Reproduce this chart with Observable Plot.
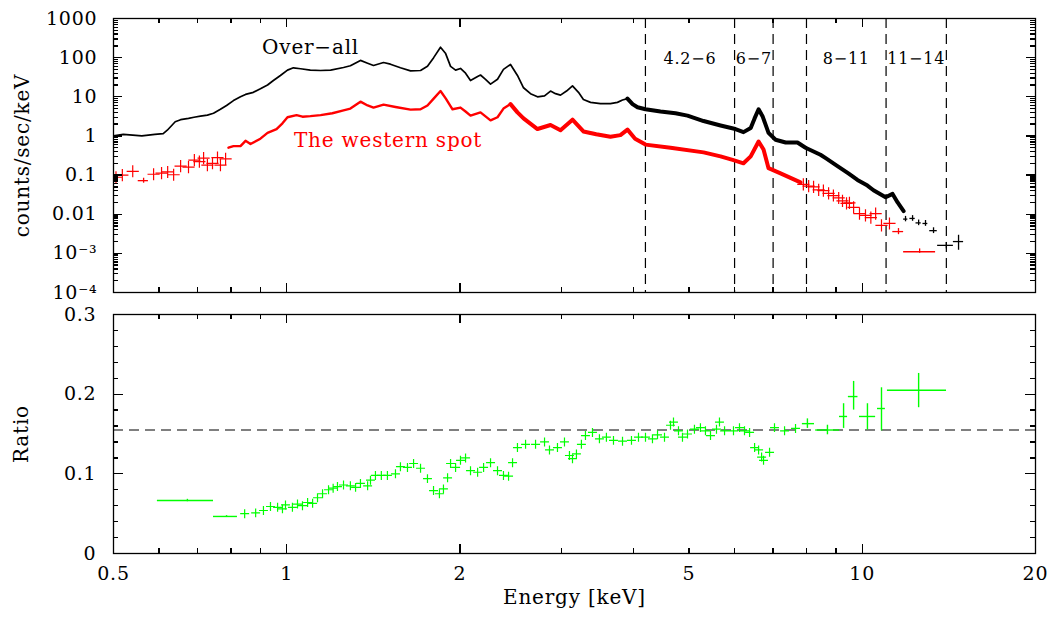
<!DOCTYPE html>
<html><head><meta charset="utf-8">
<script src="https://cdn.jsdelivr.net/npm/d3@7"></script>
<script src="https://cdn.jsdelivr.net/npm/@observablehq/plot@0.6"></script>
<style>
html,body{margin:0;padding:0;background:#fff;}
#chart svg{display:block;}
#chart svg text{letter-spacing:0.8px;}
</style></head><body><div id="chart"></div>
<script>
// ---------- Over-all spectrum (black), dense part ----------
const overallE = [0.50,0.52,0.54,0.56,0.59,0.61,0.62,0.64,0.654,0.675,0.69,0.708,0.728,0.746,0.767,0.786,0.808,0.831,0.848,0.875,0.90,0.926,0.948,0.975,1.003,1.027,1.057,1.099,1.145,1.192,1.255,1.29,1.343,1.382,1.415,1.473,1.514,1.576,1.641,1.708,1.756,1.80,1.85,1.887,1.926,1.965,2.004,2.045,2.086,2.146,2.171,2.215,2.26,2.324,2.38,2.448,2.517,2.579,2.652,2.727,2.805,2.873,2.931,2.99,3.063,3.137,3.213,3.277,3.372,3.508,3.651,3.755,3.832,3.909,3.989,4.069,4.201,4.461,4.737,4.97,5.30,5.672,6.02,6.218,6.40,6.50,6.605,6.71,6.873,7.07,7.36,7.717,7.97,8.46,8.64,9.057,9.46,9.81,10.21,10.46,10.98,11.29,11.52,11.80];
const overallV = [1.0,1.1,1.05,1.0,1.1,1.15,1.4,2.3,2.6,2.8,3.0,3.2,3.4,3.8,4.8,6.0,8.0,10,11.5,13,16,20,26,35,48,55,52,48,47,48,56,62,85,72,63,75,68,55,46,47,60,100,185,130,60,48,53,40,26,33,36,28,21,28,50,67,35,17,12,10,10.5,14,12,11,14,19,13,8.5,7.2,6.7,6.7,7.2,8.3,9,6.5,5.4,4.8,4.2,3.8,3.3,2.4,1.85,1.5,1.25,1.6,2.8,4.8,3.2,1.2,0.8,0.68,0.68,0.5,0.33,0.27,0.17,0.11,0.075,0.054,0.041,0.027,0.033,0.02,0.012];
// Over-all, binned high-energy points
const overallBinE  = [11.89,12.23,12.53,12.88,13.30,14.0,14.70];
const overallBinLo = [11.8,12.1,12.4,12.75,13.1,13.52,14.40];
const overallBinHi = [12.0,12.36,12.66,13.0,13.5,14.40,15.0];
const overallBinV  = [0.0075,0.0078,0.006,0.0058,0.0038,0.0016,0.002];
const overallBinVLo = [0.0064,0.0066,0.0051,0.0049,0.0032,0.0013,0.0012];
const overallBinVHi = [0.0088,0.0092,0.0071,0.0069,0.0045,0.0019,0.0029];

// ---------- The western spot (red), dense part ----------
const westE = [0.792,0.808,0.831,0.848,0.865,0.90,0.926,0.96,0.983,1.003,1.04,1.065,1.099,1.145,1.20,1.255,1.29,1.343,1.382,1.415,1.473,1.545,1.641,1.708,1.756,1.80,1.85,1.89,1.941,2.004,2.045,2.086,2.171,2.26,2.324,2.38,2.448,2.517,2.579,2.727,2.873,2.99,3.137,3.277,3.45,3.651,3.80,3.909,4.03,4.201,4.643,5.30,5.672,5.974,6.218,6.40,6.605,6.737,6.873,7.211,7.505,7.81];
const westV = [0.5,0.55,0.55,0.75,0.62,0.85,1.2,1.5,2.1,3.0,3.4,3.1,3.2,3.4,3.8,4.5,5,7.5,6,5.3,6.3,5.5,4.7,4.8,6,9,14,9,4.8,5.3,4.2,3.3,4,2.5,3,5,6.5,4,2.8,1.5,1.9,1.4,2.6,1.3,1.1,0.95,1.05,1.45,0.85,0.6,0.5,0.38,0.3,0.24,0.2,0.3,0.72,0.45,0.15,0.11,0.085,0.065];
// western spot, narrow binned points
const westPtE = [0.505,0.518,0.540,0.587,0.606,0.621,0.636,0.654,0.675,0.691,0.705,0.717,0.728,0.743,0.758,0.767,0.783,7.90,8.07,8.23,8.40,8.56,8.74,8.91,9.10,9.24,9.39,9.50,9.66,9.89,10.13,10.35,10.55,10.80,11.15];
const westPtV = [0.088,0.1,0.125,0.105,0.112,0.12,0.102,0.17,0.16,0.24,0.22,0.27,0.18,0.2,0.28,0.18,0.26,0.058,0.052,0.05,0.042,0.04,0.034,0.03,0.026,0.022,0.019,0.0195,0.015,0.0104,0.0093,0.0082,0.0104,0.0052,0.0058];
// western spot, wide bins
const westBinE  = [0.564,11.56,12.58];
const westBinLo = [0.552,11.3,11.8];
const westBinHi = [0.575,11.8,13.41];
const westBinV  = [0.072,0.0036,0.0011];
const westBinVLo = [0.062,0.003,0.001];
const westBinVHi = [0.083,0.0043,0.0013];

// ---------- Ratio (green) ----------
const ratioE = [0.845,0.883,0.911,0.937,0.964,0.983,0.995,1.023,1.044,1.065,1.087,1.109,1.131,1.154,1.182,1.204,1.225,1.255,1.29,1.317,1.343,1.382,1.398,1.426,1.46,1.496,1.545,1.576,1.621,1.661,1.708,1.756,1.799,1.842,1.872,1.903,1.926,1.965,2.004,2.045,2.086,2.146,2.198,2.26,2.324,2.38,2.429,2.468,2.517,2.60,2.706,2.805,2.861,2.954,3.038,3.099,3.137,3.187,3.251,3.304,3.398,3.494,3.593,3.696,3.832,3.972,4.085,4.201,4.32,4.408,4.533,4.643,4.699,4.794,4.871,4.97,5.11,5.234,5.34,5.449,5.581,5.648,5.764,5.974,6.119,6.243,6.371,6.50,6.605,6.685,6.737,6.901,7.039,7.328,7.657];
const ratioV = [0.05,0.051,0.054,0.059,0.058,0.056,0.061,0.058,0.062,0.06,0.064,0.063,0.07,0.075,0.08,0.082,0.084,0.086,0.085,0.083,0.088,0.085,0.092,0.098,0.098,0.098,0.1,0.109,0.108,0.113,0.107,0.094,0.079,0.075,0.081,0.095,0.113,0.108,0.117,0.12,0.104,0.102,0.108,0.114,0.104,0.098,0.097,0.114,0.133,0.137,0.137,0.14,0.13,0.133,0.14,0.123,0.119,0.125,0.137,0.148,0.152,0.144,0.146,0.142,0.141,0.142,0.146,0.146,0.144,0.149,0.146,0.161,0.165,0.154,0.146,0.15,0.156,0.158,0.154,0.148,0.156,0.165,0.154,0.154,0.158,0.154,0.152,0.133,0.13,0.121,0.117,0.127,0.158,0.154,0.157];
const ratioBinE  = [0.672,0.786,8.03,8.70,9.28,9.66,10.21,10.80,12.53];
const ratioBinLo = [0.596,0.746,7.87,8.30,9.13,9.46,9.89,10.63,11.06];
const ratioBinHi = [0.746,0.821,8.26,9.13,9.43,9.83,10.55,10.97,14.01];
const ratioBinV  = [0.0665,0.0465,0.163,0.155,0.172,0.197,0.172,0.182,0.205];
const ratioBinVLo = [0.065,0.0455,0.157,0.149,0.157,0.18,0.155,0.154,0.183];
const ratioBinVHi = [0.068,0.0475,0.169,0.161,0.188,0.216,0.188,0.208,0.226];
const ratioRef = 0.155;

// ---------- Energy bands ----------
const bandEdges = [4.2, 6, 7, 8, 11, 14];
const bandLo = [4.2, 6, 8, 11];
const bandHi = [6, 7, 11, 14];
const bandLabels = ["4.2−6", "6−7", "8−11", "11−14"];
const bandLabelY = 95;

// ---------- Series labels ----------
const seriesNames = ["Over−all", "The western spot"];
const seriesColors = ["#000000", "#ff0000"];
const seriesLabelE = [1.10, 1.50];
const seriesLabelV = [181, 0.76];

// ---------- Ticks ----------
const xTickValues = [0.5, 1, 2, 5, 10, 20];
const xTickLabels = ["0.5", "1", "2", "5", "10", "20"];
const xMajorTicks = [1, 2, 10];
const xMinorTicks = [0.6, 0.7, 0.8, 0.9, 3, 4, 5, 6, 7, 8, 9];
const yTopTickValues = [1e-4, 1e-3, 0.01, 0.1, 1, 10, 100, 1000];
const yTopTickLabels = ["10⁻⁴", "10⁻³", "0.01", "0.1", "1", "10", "100", "1000"];
const yBotTickValues = [0, 0.1, 0.2, 0.3];
const yBotTickLabels = ["0", "0.1", "0.2", "0.3"];
const yBotMinor = [0.02,0.04,0.06,0.08,0.12,0.14,0.16,0.18,0.22,0.24,0.26,0.28];

// ---------- build tables ----------
const zip = (E, V) => E.map((e, i) => ({e, v: V[i]}));
const bins = (E, Lo, Hi, V, VLo, VHi) => E.map((e, i) => ({e, lo: Lo[i], hi: Hi[i], v: V[i], vlo: VLo[i], vhi: VHi[i]}));
const overall = zip(overallE, overallV);
const overallBins = bins(overallBinE, overallBinLo, overallBinHi, overallBinV, overallBinVLo, overallBinVHi);
const west = zip(westE, westV);
const westPts = zip(westPtE, westPtV);
const westBins = bins(westBinE, westBinLo, westBinHi, westBinV, westBinVLo, westBinVHi);
const ratio = zip(ratioE, ratioV);
const ratioBins = bins(ratioBinE, ratioBinLo, ratioBinHi, ratioBinV, ratioBinVLo, ratioBinVHi);
const bands = bandLabels.map((label, i) => ({label, lo: bandLo[i], hi: bandHi[i]}));
const seriesLabels = seriesNames.map((name, i) => ({name, color: seriesColors[i], e: seriesLabelE[i], v: seriesLabelV[i]}));
const yTopMinor = yTopTickValues.slice(0, -1).flatMap(d => [2,3,4,5,6,7,8,9].map(k => d * k));

const FONT = "DejaVu Serif";
const RED = "#ff0000", GREEN = "#00ff00", BLACK = "#000000";
const W = 1054, ML = 113, MR = 19;
const FW = W - ML - MR;                  // frame width
const TK = {stroke: BLACK, strokeWidth: 1.3, shapeRendering: "crispEdges"};

// inward tick marks along the frame edges (rules shortened by insets)
function xTicks(frameH) {
  return [
    Plot.ruleX(xMajorTicks, {...TK, insetTop: frameH - 9}),
    Plot.ruleX(xMajorTicks, {...TK, insetBottom: frameH - 9}),
    Plot.ruleX(xMinorTicks, {...TK, insetTop: frameH - 5}),
    Plot.ruleX(xMinorTicks, {...TK, insetBottom: frameH - 5})
  ];
}
function yTicks(major, minor, majLen, minLen) {
  return [
    Plot.ruleY(major, {...TK, insetRight: FW - majLen}),
    Plot.ruleY(major, {...TK, insetLeft: FW - majLen}),
    Plot.ruleY(minor, {...TK, insetRight: FW - minLen}),
    Plot.ruleY(minor, {...TK, insetLeft: FW - minLen})
  ];
}

const topH = 300, topMT = 18, topMB = 8, topFH = topH - topMT - topMB;
const topPlot = Plot.plot({
  width: W, height: topH,
  marginLeft: ML, marginRight: MR, marginTop: topMT, marginBottom: topMB,
  style: {fontFamily: FONT, fontSize: "19px", background: "#fff", color: "#000", overflow: "visible"},
  x: {type: "log", domain: [0.5, 20], label: null, axis: null},
  y: {type: "log", domain: [1e-4, 1000], label: null, axis: null},
  marks: [
    Plot.ruleX(bandEdges, {stroke: BLACK, strokeWidth: 1.2, strokeDasharray: "10,6"}),
    Plot.line(overall, {x: "e", y: "v", stroke: BLACK, strokeWidth: 1.7, clip: true}),
    Plot.line(overall.filter(d => d.e >= 3.9), {x: "e", y: "v", stroke: BLACK, strokeWidth: 4, clip: true}),
    Plot.line(west, {x: "e", y: "v", stroke: RED, strokeWidth: 2.4, clip: true}),
    Plot.line(west.filter(d => d.e >= 2.4), {x: "e", y: "v", stroke: RED, strokeWidth: 4, clip: true}),
    Plot.dot(westPts, {x: "e", y: "v", symbol: "plus", r: 4, stroke: RED, strokeWidth: 1.2, clip: true}),
    Plot.ruleY(westBins, {x1: "lo", x2: "hi", y: "v", stroke: RED, strokeWidth: 1.3, clip: true}),
    Plot.ruleX(westBins, {x: "e", y1: "vlo", y2: "vhi", stroke: RED, strokeWidth: 1.3, clip: true}),
    Plot.ruleY(overallBins, {x1: "lo", x2: "hi", y: "v", stroke: BLACK, strokeWidth: 1.3, clip: true}),
    Plot.ruleX(overallBins, {x: "e", y1: "vlo", y2: "vhi", stroke: BLACK, strokeWidth: 1.3, clip: true}),
    Plot.text(bands, {x: d => Math.sqrt(d.lo * d.hi), y: () => bandLabelY, text: "label", fontSize: 16, fill: BLACK}),
    Plot.text(seriesLabels, {x: "e", y: "v", text: "name", fill: "color", fontSize: 20}),
    Plot.frame({stroke: BLACK, strokeWidth: 1.3}),
    ...xTicks(topFH),
    ...yTicks(yTopTickValues, yTopMinor, 9, 5),
    Plot.axisY(yTopTickValues, {anchor: "left", tickSize: 0, tickPadding: 16, fontSize: 19, label: null,
      tickFormat: d => yTopTickLabels[yTopTickValues.indexOf(d)]}),
    Plot.text(["counts/sec/keV"], {frameAnchor: "left", dx: -91, rotate: -90, textAnchor: "middle", fontSize: 20, fill: BLACK})
  ]
});

const botH = 321, botMT = 14, botMB = 68, botFH = botH - botMT - botMB;
const bottomPlot = Plot.plot({
  width: W, height: botH,
  marginLeft: ML, marginRight: MR, marginTop: botMT, marginBottom: botMB,
  style: {fontFamily: FONT, fontSize: "19px", background: "#fff", color: "#000", overflow: "visible"},
  x: {type: "log", domain: [0.5, 20], label: null, axis: null},
  y: {domain: [0, 0.3], label: null, axis: null},
  marks: [
    Plot.ruleY([ratioRef], {stroke: BLACK, strokeWidth: 1.2, strokeDasharray: "10,6"}),
    Plot.dot(ratio, {x: "e", y: "v", symbol: "plus", r: 3, stroke: GREEN, strokeWidth: 1.2, clip: true}),
    Plot.ruleY(ratioBins, {x1: "lo", x2: "hi", y: "v", stroke: GREEN, strokeWidth: 1.4, clip: true}),
    Plot.ruleX(ratioBins, {x: "e", y1: "vlo", y2: "vhi", stroke: GREEN, strokeWidth: 1.4, clip: true}),
    Plot.frame({stroke: BLACK, strokeWidth: 1.3}),
    ...xTicks(botFH),
    ...yTicks(yBotTickValues, yBotMinor, 10, 5),
    Plot.axisY(yBotTickValues, {anchor: "left", tickSize: 0, tickPadding: 17, fontSize: 19, label: null,
      tickFormat: d => yBotTickLabels[yBotTickValues.indexOf(d)]}),
    Plot.axisX(xTickValues, {anchor: "bottom", tickSize: 0, tickPadding: 13, fontSize: 19, label: null,
      tickFormat: d => xTickLabels[xTickValues.indexOf(d)]}),
    Plot.text(["Ratio"], {frameAnchor: "left", dx: -92, rotate: -90, textAnchor: "middle", fontSize: 20, fill: BLACK}),
    Plot.text(["Energy [keV]"], {frameAnchor: "bottom", dy: 50, textAnchor: "middle", fontSize: 20, fill: BLACK})
  ]
});

const chart = document.getElementById("chart");
chart.appendChild(topPlot);
chart.appendChild(bottomPlot);
</script>
</body></html>
